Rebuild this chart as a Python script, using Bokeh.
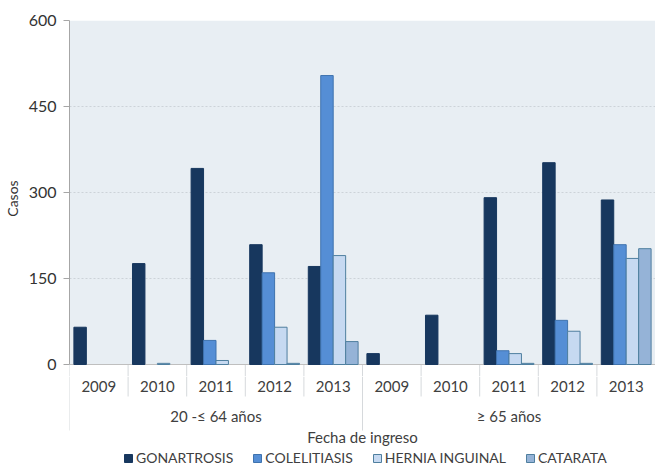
from bokeh.plotting import figure
from bokeh.layouts import column
from bokeh.models import Range1d, FixedTicker, Legend, LegendItem
from bokeh.embed import file_html
from bokeh.resources import INLINE
from bokeh.core.properties import value

# ---------------- data ----------------
groups = ["20 -≤ 64 años", "≥ 65 años"]
years = ["2009", "2010", "2011", "2012", "2013"]
series_names = ["GONARTROSIS", "COLELITIASIS", "HERNIA INGUINAL", "CATARATA"]
gonartrosis = [65, 176, 342, 209, 171, 19, 86, 291, 352, 287]
colelitiasis = [0, 0, 42, 160, 504, 0, 0, 24, 77, 209]
hernia_inguinal = [0, 2, 7, 65, 190, 0, 0, 19, 58, 185]
catarata = [0, 0, 0, 2, 40, 0, 0, 2, 2, 202]
y_ticks = [0, 150, 300, 450, 600]
x_title = "Fecha de ingreso"
y_title = "Casos"

# ---------------- styles ----------------
fills = ["#17375E", "#558ED5", "#C6D9F1", "#95B3D7"]
outlines = ["#17375E", "#3F73AE", "#4F7F9F", "#4F7F9F"]
FONT = "Lato"
TXT = "#404040"
SEP = "#D6D9DC"

W, H = 655, 466
FRAME_LEFT, FRAME_TOP = 67, 20
ZERO_PX = 364
SPLIT_PX = 376          # where the chart panel ends and the label panel starts
Y_MAX = 600
scale = (ZERO_PX - FRAME_TOP) / Y_MAX


def ypx(px):
    return (ZERO_PX - px) / scale


n = len(groups) * len(years)
slots = [i + 0.5 for i in range(n)]
year_labels = years * len(groups)
xr = Range1d(0, n)

# ================= chart panel =================
p = figure(width=W, height=SPLIT_PX, x_range=xr, y_range=Range1d(ypx(SPLIT_PX), Y_MAX),
           output_backend="svg", toolbar_location=None, x_axis_location=None,
           min_border_left=FRAME_LEFT, min_border_right=0, min_border_top=FRAME_TOP,
           min_border_bottom=0)
p.outline_line_color = None
p.background_fill_color = "white"
p.border_fill_color = "white"

bg = p.quad(left=[0], right=[n], bottom=[0], top=[Y_MAX], fill_color="#E8EEF3", line_color=None)
bg.level = "image"

p.xgrid.visible = False
p.ygrid.ticker = FixedTicker(ticks=y_ticks)
p.ygrid.grid_line_color = "#CDD3D8"
p.ygrid.grid_line_dash = "2 2"

p.yaxis.ticker = FixedTicker(ticks=y_ticks)
p.yaxis.bounds = (0, Y_MAX)
p.yaxis.axis_line_color = "#A6A6A6"
p.yaxis.major_tick_line_color = "#A6A6A6"
p.yaxis.major_tick_in = 0
p.yaxis.major_tick_out = 6
p.yaxis.minor_tick_line_color = None
p.yaxis.major_label_text_font = FONT
p.yaxis.major_label_text_font_size = "16px"
p.yaxis.major_label_text_color = "#333333"
p.yaxis.major_label_standoff = 7
p.yaxis.axis_label = y_title
p.yaxis.axis_label_text_font = FONT
p.yaxis.axis_label_text_font_size = "14px"
p.yaxis.axis_label_text_font_style = "normal"
p.yaxis.axis_label_text_color = "#333333"
p.yaxis.axis_label_standoff = 5

# separators (upper part, below the baseline) and baseline
idx = list(range(0, n))
p.segment(x0=idx, x1=idx, y0=[0] * n, y1=[ypx(SPLIT_PX)] * n, line_color=SEP)
p.segment(x0=[0], x1=[n], y0=[0], y1=[0], line_color="#BFBFBF")

series = [gonartrosis, colelitiasis, hernia_inguinal, catarata]
bw = 0.2125
for k, vals in enumerate(series):
    xs = [c + (k - 1.5) * bw for c, v in zip(slots, vals) if v > 0]
    tops = [v for v in vals if v > 0]
    p.vbar(x=xs, top=tops, bottom=0, width=bw, fill_color=fills[k],
           line_color=outlines[k], line_width=1)

# ================= category / legend panel =================
q = figure(width=W, height=H - SPLIT_PX, x_range=xr, y_range=Range1d(H, SPLIT_PX),
           output_backend="svg", toolbar_location=None, x_axis_location=None,
           y_axis_location=None, min_border_left=FRAME_LEFT, min_border_right=0,
           min_border_top=0, min_border_bottom=0)
q.outline_line_color = None
q.xgrid.visible = False
q.ygrid.visible = False
q.background_fill_color = "white"
q.border_fill_color = "white"

inner = [i for i in range(1, n) if i % len(years) != 0]
outer = [i for i in range(0, n) if i % len(years) == 0]
q.segment(x0=inner, x1=inner, y0=[SPLIT_PX] * len(inner), y1=[396] * len(inner), line_color=SEP)
q.segment(x0=outer, x1=outer, y0=[SPLIT_PX] * len(outer), y1=[430] * len(outer), line_color=SEP)

q.text(x=slots, y=[386] * n, text=year_labels, text_align="center",
       text_baseline="middle", text_font=value(FONT), text_font_size="15px", text_color=TXT)
group_centers = [len(years) * g + len(years) / 2 for g in range(len(groups))]
q.text(x=group_centers, y=[415] * len(groups), text=groups, text_align="center",
       text_baseline="middle", text_font=value(FONT), text_font_size="15px", text_color=TXT)
q.text(x=[n / 2], y=[436], text=[x_title], text_align="center",
       text_baseline="middle", text_font=value(FONT), text_font_size="15px", text_color=TXT)

# legend swatches: renderers with no visible data (NaN), only used for the legend
nan = float("nan")
items = []
for k, name in enumerate(series_names):
    r = q.vbar(x=[nan], top=[nan], bottom=[nan], width=bw, fill_color=fills[k],
               line_color=outlines[k])
    items.append(LegendItem(label=name, renderers=[r]))

legend = Legend(items=items, orientation="horizontal", location=(121 - FRAME_LEFT, 0),
                padding=0, margin=0, spacing=19, glyph_width=10, glyph_height=10,
                label_standoff=3, label_height=12, label_text_font=FONT,
                label_text_font_size="14px", label_text_color=TXT,
                border_line_color=None, background_fill_alpha=0)
q.add_layout(legend)

layout = column(p, q, spacing=0)
open("out.html", "w").write(file_html(layout, INLINE))
